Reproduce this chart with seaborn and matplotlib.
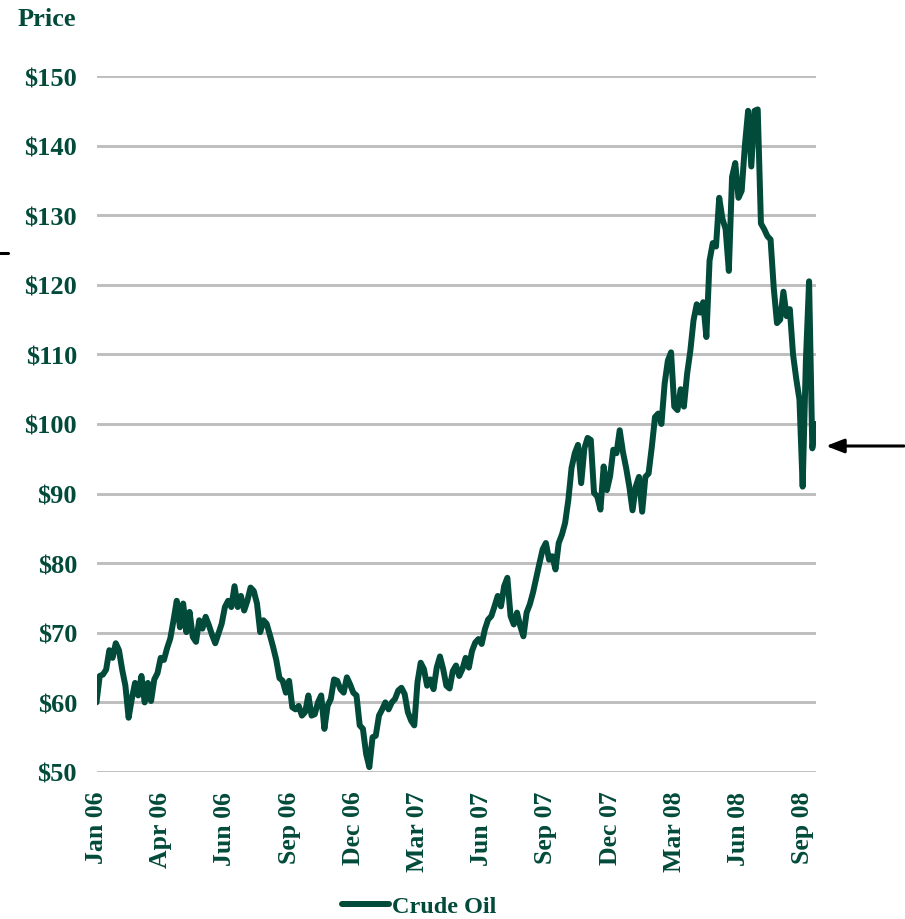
import matplotlib
matplotlib.use("Agg")
import matplotlib.pyplot as plt
import seaborn as sns
import pandas as pd
from matplotlib.lines import Line2D

# ---- data (evenly spaced trading samples) ----
prices = [
    60.0, 63.8, 64.0, 64.7, 67.5, 66.4, 68.5, 67.5, 64.7, 62.4,
    57.8, 60.5, 62.8, 61.0, 63.8, 60.0, 62.8, 60.2, 63.3, 64.2,
    66.4, 66.1, 67.8, 69.2, 71.8, 74.6, 70.8, 74.2, 70.1, 73.0,
    69.4, 68.7, 71.8, 70.6, 72.3, 71.1, 69.7, 68.5, 69.9, 71.3,
    73.7, 74.6, 73.7, 76.7, 73.7, 75.3, 73.2, 74.6, 76.5, 76.0,
    74.2, 70.1, 71.8, 71.3, 69.7, 68.0, 66.1, 63.5, 63.1, 61.4,
    63.1, 59.3, 59.0, 59.5, 58.1, 58.6, 61.0, 58.1, 58.3, 60.0,
    61.0, 56.2, 59.5, 60.5, 63.3, 63.1, 61.9, 61.4, 63.6, 62.6,
    61.4, 61.0, 56.7, 56.2, 52.6, 50.7, 55.0, 55.2, 58.1, 59.0,
    60.0, 59.0, 60.0, 60.5, 61.7, 62.1, 61.2, 58.6, 57.4, 56.7,
    62.9, 65.7, 64.8, 62.4, 63.3, 61.9, 65.0, 66.6, 64.8, 62.4,
    62.0, 64.5, 65.3, 63.8, 64.8, 66.4, 65.0, 67.4, 68.6, 69.1,
    68.4, 70.5, 71.9, 72.4, 73.8, 75.3, 73.8, 76.7, 77.9, 72.4,
    71.2, 72.9, 71.0, 69.5, 72.9, 74.1, 75.8, 77.9, 80.0, 82.0,
    82.9, 80.5, 81.0, 79.1, 82.9, 84.1, 85.8, 89.1, 93.7, 95.8,
    97.0, 91.5, 96.5, 98.0, 97.7, 90.1, 89.6, 87.7, 93.9, 90.5,
    92.5, 96.3, 95.8, 99.1, 96.0, 93.7, 91.0, 87.6, 91.0, 92.4,
    87.4, 92.4, 92.9, 96.7, 101.0, 101.5, 100.0, 105.8, 109.1, 110.3,
    102.5, 102.0, 105.0, 102.5, 107.2, 110.5, 114.9, 117.2, 116.0, 117.5,
    112.5, 123.5, 126.0, 125.5, 132.5, 129.5, 128.0, 122.0, 135.5, 137.5,
    132.5, 133.5, 140.0, 145.0, 137.0, 145.0, 145.2, 128.8, 128.0, 127.0,
    126.5, 119.5, 114.5, 115.0, 119.0, 115.5, 116.5, 110.0, 106.5, 103.5,
    91.0, 109.0, 120.5, 96.5, 100.0,
]
tick_labels = ["Jan 06", "Apr 06", "Jun 06", "Sep 06", "Dec 06", "Mar 07",
               "Jun 07", "Sep 07", "Dec 07", "Mar 08", "Jun 08", "Sep 08"]
y_ticks = [50, 60, 70, 80, 90, 100, 110, 120, 130, 140, 150]
series_name = "Crude Oil"

df = pd.DataFrame({"t": range(len(prices)), "price": prices})

GREEN = "#024A3A"
GRID = "#BEBEBE"

sns.set_theme(style="white")
plt.rcParams["font.family"] = ["Liberation Serif", "DejaVu Serif"]
plt.rcParams["font.weight"] = "bold"

fig = plt.figure(figsize=(9.05, 9.2), dpi=100)
ax = fig.add_axes([96.5 / 905, 1 - 773 / 920, 719 / 905, 696 / 920])

for v in y_ticks:
    ax.axhline(v, color=GRID, lw=2.1, zorder=0)

sns.lineplot(data=df, x="t", y="price", ax=ax, color=GREEN, lw=4.3,
             label=series_name, legend=False)
for ln in ax.lines:
    ln.set_solid_joinstyle("round")
    ln.set_solid_capstyle("round")

ax.set_xlim(0, len(prices) - 1)
ax.set_ylim(50, 150)
ax.set_yticks(y_ticks)
ax.set_yticklabels([f"${v}" for v in y_ticks], fontsize=19,
                   fontweight="bold", color=GREEN)
ax.set_xticks([20 * k for k in range(len(tick_labels))])
ax.set_xticklabels(tick_labels, rotation=90, fontsize=18.5,
                   fontweight="bold", color=GREEN)
ax.tick_params(axis="y", length=0, pad=14)
ax.tick_params(axis="x", length=0, pad=13.5)
ax.set_xlabel("")
ax.set_ylabel("")
for s in ax.spines.values():
    s.set_visible(False)
ax.grid(False)

fig.text(18 / 905, 1 - 19 / 920, "Price", fontsize=19, fontweight="bold",
         color=GREEN, ha="left", va="center")

handle = Line2D([], [], color=GREEN, lw=4.3)
fig.legend([handle], [series_name], loc="center",
           bbox_to_anchor=(419 / 905, 1 - 907 / 920), frameon=False,
           handlelength=1.95, handletextpad=0.1,
           prop={"size": 17.5, "weight": "bold"}, labelcolor=GREEN)

ax.annotate("", xy=(826 / 905, 1 - 447 / 920), xytext=(904 / 905, 1 - 447 / 920),
            xycoords="figure fraction", textcoords="figure fraction",
            arrowprops=dict(arrowstyle="-|>,head_length=0.9,head_width=0.35",
                            color="black", lw=2.2, shrinkA=0, shrinkB=0))
fig.add_artist(Line2D([0, 8 / 905], [1 - 254 / 920, 1 - 254 / 920],
                      color="black", lw=2.2, transform=fig.transFigure))

fig.savefig("out.png", dpi=100)
